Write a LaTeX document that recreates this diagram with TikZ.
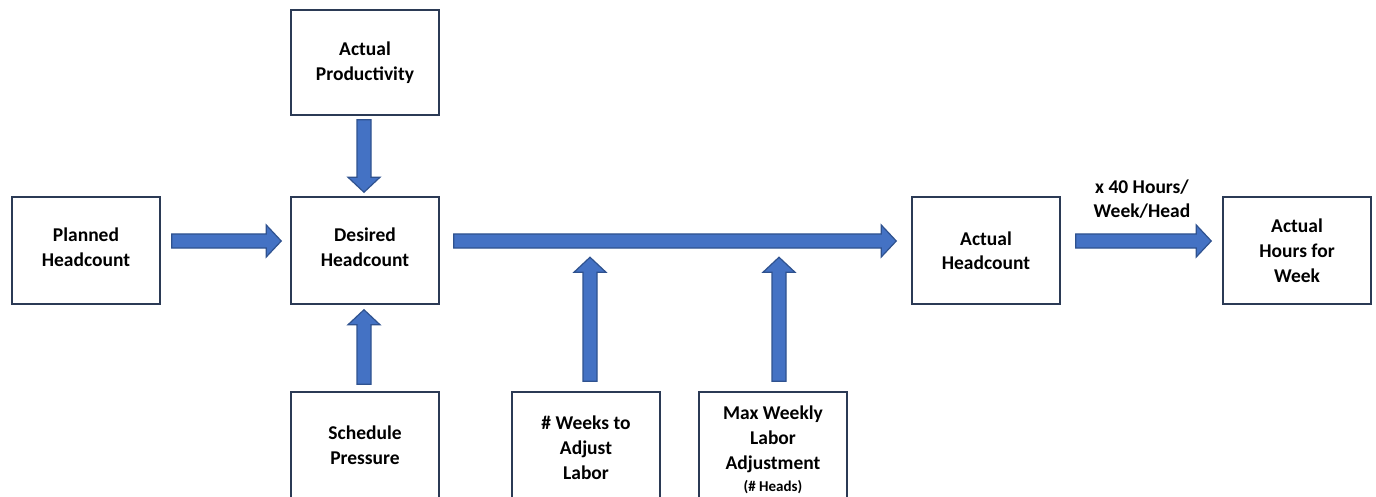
\documentclass[tikz,border=0pt]{standalone}
\usepackage{fontspec}
\setmainfont{Carlito}
\usetikzlibrary{calc}
\definecolor{boxline}{HTML}{2B3A55}
\definecolor{arrowfill}{HTML}{4472C4}
\definecolor{arrowline}{HTML}{2F528F}
\tikzset{
  box/.style={draw=boxline, line width=1.5pt, fill=white, minimum width=148pt, minimum height=107pt, inner sep=0pt, align=center, font=\fontsize{19.5}{24.5}\selectfont\bfseries, text=black},
  arrowstyle/.style={fill=arrowfill, draw=arrowline, line width=1.2pt, line join=miter},
  lbl/.style={align=center, font=\fontsize{19.5}{24}\selectfont\bfseries, text=black, inner sep=0pt}
}
\newcommand\blkarrow[2]{%
  \draw[arrowstyle] ($(#1)!7pt!90:(#2)$)
    -- ($($(#2)!15pt!(#1)$)!7pt!90:(#2)$)
    -- ($($(#2)!15pt!(#1)$)!16pt!90:(#2)$)
    -- (#2)
    -- ($($(#2)!15pt!(#1)$)!16pt!-90:(#2)$)
    -- ($($(#2)!15pt!(#1)$)!7pt!-90:(#2)$)
    -- ($(#1)!7pt!-90:(#2)$) -- cycle;}
\begin{document}
\begin{tikzpicture}[x=1pt,y=-1pt]
\useasboundingbox[fill=white] (0,0) rectangle (1376,497);
\node[box] (plan) at (86,250.5) {};
\node[lbl, font=\fontsize{19.5}{24.5}\selectfont\bfseries] (plant) at (86,247) {Planned\\Headcount};
\node[box] (des) at (365,250.5) {};
\node[lbl, font=\fontsize{19.5}{24.5}\selectfont\bfseries] (dest) at (365,247) {Desired\\Headcount};
\node[box, minimum height=105pt] (prod) at (365,62.5) {Actual\\Productivity};
\node[box, minimum height=106pt] (sched) at (365,445) {Schedule\\Pressure};
\node[box, minimum height=106pt] (weeks) at (586,445) {};
\node[lbl, font=\fontsize{19.5}{25}\selectfont\bfseries] (weekst) at (586,448) {\# Weeks to\\Adjust\\Labor};
\node[box, minimum height=106pt] (maxw) at (773,445) {};
\node[lbl, font=\fontsize{19.5}{25}\selectfont\bfseries] (maxt) at (773,439) {Max Weekly\\Labor\\Adjustment};
\node[lbl, font=\fontsize{15}{17}\selectfont\bfseries] (maxh) at (773,487) {(\# Heads)};
\node[box] (act) at (986,250.5) {Actual\\Headcount};
\node[box, font=\fontsize{19.5}{25}\selectfont\bfseries] (hours) at (1297,250.5) {Actual\\Hours for\\Week};
\node[lbl] (mult) at (1142,199) {x 40 Hours/\\Week/Head};

\coordinate (a1s) at ($(plan.east)+(11,-9.5)$);
\coordinate (a1e) at ($(des.west)+(-9,-9.5)$);
\coordinate (a2s) at ($(prod.south)+(-1,4)$);
\coordinate (a2e) at ($(des.north)+(-1,-4)$);
\coordinate (a3s) at ($(sched.north)+(-1,-7)$);
\coordinate (a3e) at ($(des.south)+(-1,5)$);
\coordinate (a4s) at ($(des.east)+(14,-9.5)$);
\coordinate (a4e) at ($(act.west)+(-15,-9.5)$);
\coordinate (a5s) at ($(weeks.north)+(4,-10)$);
\coordinate (a5e) at ($(weeks.north)+(4,-134)$);
\coordinate (a6s) at ($(maxw.north)+(6,-10)$);
\coordinate (a6e) at ($(maxw.north)+(6,-134)$);
\coordinate (a7s) at ($(act.east)+(15,-9.5)$);
\coordinate (a7e) at ($(hours.west)+(-11,-9.5)$);

\blkarrow{a1s}{a1e}
\blkarrow{a2s}{a2e}
\blkarrow{a3s}{a3e}
\blkarrow{a4s}{a4e}
\blkarrow{a5s}{a5e}
\blkarrow{a6s}{a6e}
\blkarrow{a7s}{a7e}
\end{tikzpicture}
\end{document}
